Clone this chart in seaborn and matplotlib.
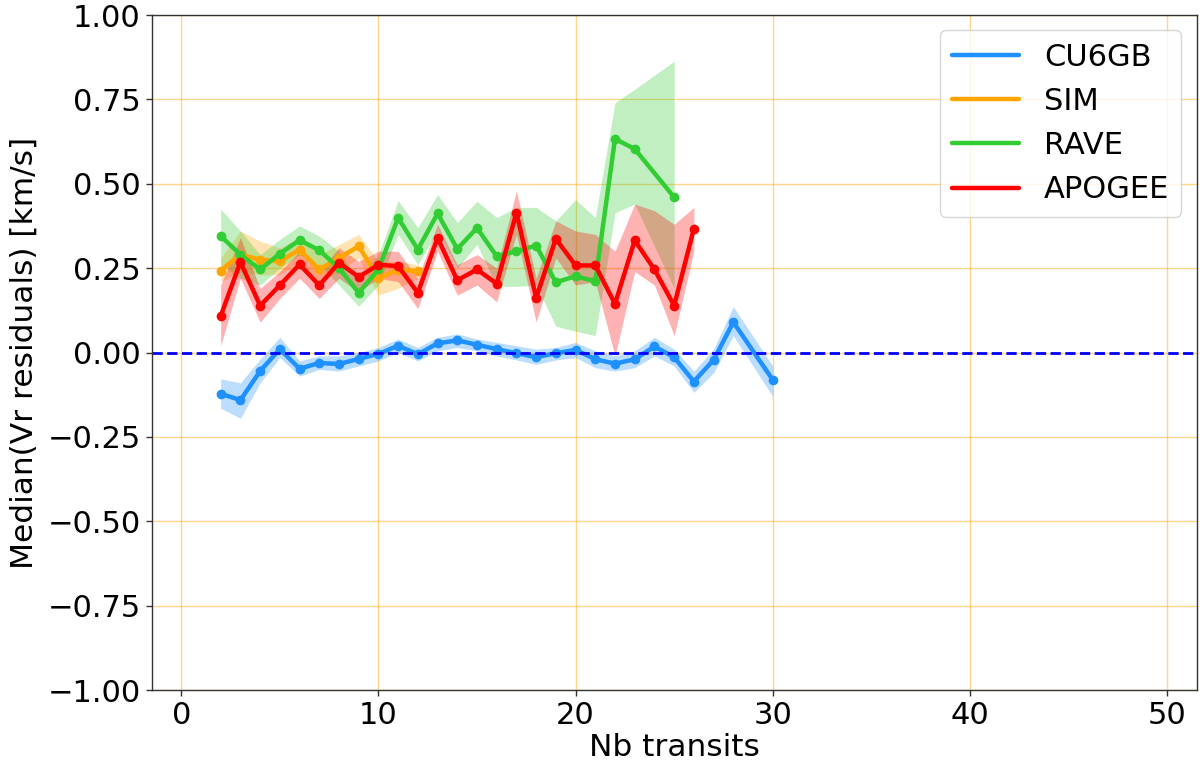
import numpy as np
import matplotlib
matplotlib.use('Agg')
import matplotlib.pyplot as plt
from matplotlib.lines import Line2D
import seaborn as sns

# values
x_cu6gb = [2, 3, 4, 5, 6, 7, 8, 9, 10, 11, 12, 13, 14, 15, 16, 17, 18, 19, 20,
           21, 22, 23, 24, 25, 26, 27, 28, 30]
cu6gb = [-0.122, -0.141, -0.055, 0.010, -0.048, -0.031, -0.034, -0.019, -0.004, 0.020,
         -0.005, 0.027, 0.036, 0.023, 0.010, -0.002, -0.014, -0.002, 0.008, -0.020,
         -0.033, -0.020, 0.018, -0.014, -0.086, -0.022, 0.090, -0.081]
cu6gb_lo = [-0.165, -0.195, -0.090, -0.015, -0.070, -0.050, -0.055, -0.040, -0.025, 0.000,
            -0.025, 0.005, 0.015, 0.005, -0.010, -0.022, -0.035, -0.022, -0.015, -0.045,
            -0.055, -0.045, -0.010, -0.040, -0.118, -0.060, 0.050, -0.130]
cu6gb_hi = [-0.078, -0.090, -0.020, 0.045, -0.025, -0.010, -0.010, 0.000, 0.015, 0.040,
            0.015, 0.045, 0.055, 0.040, 0.030, 0.020, 0.010, 0.015, 0.030, 0.005,
            -0.010, 0.005, 0.045, 0.010, -0.055, 0.010, 0.136, -0.040]

x_sim = [2, 3, 4, 5, 6, 7, 8, 9, 10, 11, 12]
sim = [0.243, 0.290, 0.275, 0.270, 0.305, 0.246, 0.280, 0.315, 0.220, 0.245, 0.241]
sim_lo = [0.210, 0.240, 0.230, 0.230, 0.270, 0.210, 0.240, 0.280, 0.170, 0.190, 0.220]
sim_hi = [0.280, 0.360, 0.330, 0.310, 0.340, 0.290, 0.320, 0.350, 0.270, 0.270, 0.260]

x_rave = [2, 3, 4, 5, 6, 7, 8, 9, 10, 11, 12, 13, 14, 15, 16, 17, 18, 19, 20, 21,
          22, 23, 25]
rave = [0.345, 0.290, 0.246, 0.293, 0.333, 0.303, 0.250, 0.177, 0.246, 0.399, 0.305,
        0.412, 0.307, 0.369, 0.285, 0.300, 0.317, 0.208, 0.226, 0.211, 0.633, 0.603, 0.460]
rave_lo = [0.260, 0.220, 0.200, 0.250, 0.290, 0.260, 0.200, 0.137, 0.200, 0.350, 0.260,
           0.360, 0.250, 0.320, 0.196, 0.196, 0.200, 0.078, 0.063, 0.050, 0.414, 0.440, 0.190]
rave_hi = [0.425, 0.360, 0.290, 0.335, 0.375, 0.345, 0.300, 0.215, 0.290, 0.450, 0.370,
           0.468, 0.385, 0.448, 0.400, 0.430, 0.430, 0.390, 0.453, 0.400, 0.740, 0.780, 0.863]

x_apogee = [2, 3, 4, 5, 6, 7, 8, 9, 10, 11, 12, 13, 14, 15, 16, 17, 18, 19, 20, 21,
            22, 23, 24, 25, 26]
apogee = [0.108, 0.268, 0.139, 0.199, 0.261, 0.199, 0.266, 0.224, 0.260, 0.256, 0.177,
          0.340, 0.214, 0.246, 0.204, 0.414, 0.162, 0.337, 0.258, 0.258, 0.144, 0.332,
          0.246, 0.139, 0.367]
apogee_lo = [0.020, 0.220, 0.090, 0.160, 0.220, 0.160, 0.220, 0.180, 0.220, 0.210, 0.130,
             0.300, 0.170, 0.200, 0.150, 0.350, 0.090, 0.280, 0.200, 0.210, -0.010, 0.240,
             0.200, 0.050, 0.300]
apogee_hi = [0.200, 0.340, 0.190, 0.240, 0.300, 0.240, 0.310, 0.270, 0.300, 0.300, 0.220,
             0.380, 0.260, 0.290, 0.250, 0.480, 0.220, 0.390, 0.360, 0.350, 0.300, 0.440,
             0.420, 0.380, 0.430]

series = [
    ('CU6GB', x_cu6gb, cu6gb, cu6gb_lo, cu6gb_hi, '#1E90FF'),
    ('SIM', x_sim, sim, sim_lo, sim_hi, '#FFA500'),
    ('RAVE', x_rave, rave, rave_lo, rave_hi, '#32CD32'),
    ('APOGEE', x_apogee, apogee, apogee_lo, apogee_hi, '#FF0000'),
]

sns.set_style('ticks')
plt.rcParams['font.family'] = ['DejaVu Sans']
plt.rcParams['text.color'] = 'black'
plt.rcParams['axes.labelcolor'] = 'black'
plt.rcParams['xtick.color'] = 'black'
plt.rcParams['ytick.color'] = 'black'

fig = plt.figure(figsize=(12, 7.66), dpi=100)
ax = fig.add_axes([0.1264, 0.0992, 0.8708, 0.8812])

handles = []
for name, xs, ys, lo, hi, col in series:
    ax.fill_between(xs, lo, hi, color=col, alpha=0.3, linewidth=0)
    sns.lineplot(x=xs, y=ys, color=col, lw=3.2, marker='o', markersize=7,
                 markeredgewidth=0, legend=False, ax=ax)
    handles.append(Line2D([], [], color=col, lw=3.2, label=name))

# zero reference line
ax.axhline(0, color='#0000FF', ls='--', lw=2)

ax.set_xlim(-1.5, 51.5)
ax.set_ylim(-1.0, 1.0)
ax.set_yticks(np.arange(-1.0, 1.01, 0.25))
ax.set_xticks([0, 10, 20, 30, 40, 50])
ax.grid(True, color='orange', alpha=0.45, lw=1)
ax.set_axisbelow(True)

for s in ax.spines.values():
    s.set_color('#333333')
    s.set_linewidth(1.0)
ax.tick_params(labelsize=22, length=4.5, width=1, color='#333333', labelcolor='black')

ax.set_xlabel('Nb transits', fontsize=22.5, labelpad=2)
ax.set_ylabel('Median(Vr residuals) [km/s]', fontsize=22.5, labelpad=6)
ax.legend(handles=handles, loc='upper right', fontsize=22, handlelength=2.2,
          borderaxespad=0.5)

fig.savefig('out.png', dpi=100)
